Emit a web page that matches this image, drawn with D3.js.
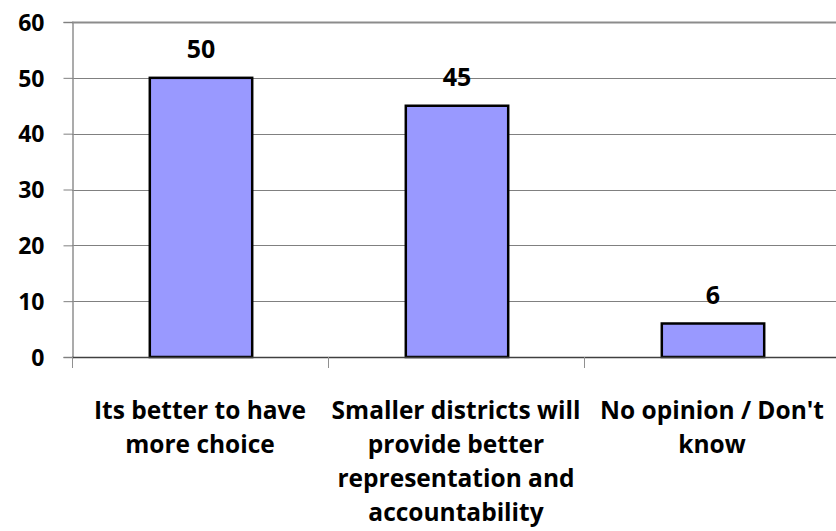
<!DOCTYPE html>
<html>
<head>
<meta charset="utf-8">
<script src="https://cdn.jsdelivr.net/npm/d3@7"></script>
<style>
  html, body { margin: 0; padding: 0; background: #fff; }
  svg { display: block; }
  text { font-family: "Open Sans", Lato, sans-serif; font-weight: bold; fill: #000; }
</style>
</head>
<body>
<svg id="chart" width="836" height="531"></svg>
<script>
// Survey responses (percent)
const categories = [
  ["Its better to have", "more choice"],
  ["Smaller districts will", "provide better", "representation and", "accountability"],
  ["No opinion / Don't", "know"]
];
const values = [50, 45, 6];
const yTicks = [0, 10, 20, 30, 40, 50, 60];

const svg = d3.select("#chart");
const margin = { left: 72, top: 22, right: -4, bottom: 174 };
const W = 836, H = 531;

const x = d3.scaleBand()
  .domain(d3.range(categories.length))
  .range([margin.left, W - margin.right])
  .paddingInner(0.6).paddingOuter(0.3);
const xOuter = d3.scaleBand()
  .domain(d3.range(categories.length))
  .range([margin.left, W - margin.right]);
const y = d3.scaleLinear().domain([0, 60]).range([H - margin.bottom, margin.top]);

// gridlines
svg.append("g")
  .selectAll("line")
  .data(yTicks.filter(d => d > 0 && d < 60))
  .join("line")
  .attr("x1", margin.left).attr("x2", W)
  .attr("y1", d => Math.round(y(d)) + 0.5).attr("y2", d => Math.round(y(d)) + 0.5)
  .attr("stroke", "#808080").attr("stroke-width", 1);

// top border of plot area
svg.append("line")
  .attr("x1", margin.left).attr("x2", W)
  .attr("y1", y(60) + 0.5).attr("y2", y(60) + 0.5)
  .attr("stroke", "#8c8c8c").attr("stroke-width", 2);

// y axis
const yAxis = svg.append("g")
  .attr("transform", `translate(${margin.left + 0.5},0)`)
  .call(d3.axisLeft(y).tickValues(yTicks).tickSize(9).tickPadding(19).tickFormat(d3.format("d")));
yAxis.select(".domain").attr("stroke", "#909090").attr("stroke-width", 1.5);
yAxis.selectAll(".tick line").attr("stroke", "#808080");
yAxis.selectAll(".tick text")
  .attr("font-size", 23).attr("font-family", "'Open Sans', sans-serif").attr("font-weight", "bold")
  .attr("fill", "#000").attr("dy", "0.36em");

// bars
svg.append("g")
  .selectAll("rect")
  .data(values)
  .join("rect")
  .attr("x", (d, i) => x(i) + 1)
  .attr("width", x.bandwidth())
  .attr("y", d => y(d))
  .attr("height", d => y(0) - y(d))
  .attr("fill", "#9999FF")
  .attr("stroke", "#000")
  .attr("stroke-width", 2.5);

// x axis line and category ticks
svg.append("line")
  .attr("x1", margin.left).attr("x2", W)
  .attr("y1", y(0) + 0.5).attr("y2", y(0) + 0.5)
  .attr("stroke", "#404040").attr("stroke-width", 1.5);
svg.append("g")
  .selectAll("line")
  .data(d3.range(categories.length))
  .join("line")
  .attr("x1", i => Math.round(xOuter(i)) + 0.5).attr("x2", i => Math.round(xOuter(i)) + 0.5)
  .attr("y1", y(0)).attr("y2", y(0) + 11)
  .attr("stroke", "#909090");

// value labels
svg.append("g")
  .selectAll("text")
  .data(values)
  .join("text")
  .attr("x", (d, i) => x(i) + 1 + x.bandwidth() / 2)
  .attr("y", d => y(d) - 20)
  .attr("text-anchor", "middle")
  .attr("font-size", 25)
  .text(d => d);

// category labels
const cat = svg.append("g")
  .selectAll("text")
  .data(categories)
  .join("text")
  .attr("text-anchor", "middle")
  .attr("font-size", 24.5)
  .attr("x", (d, i) => xOuter(i) + xOuter.bandwidth() / 2)
  .attr("y", 419);
cat.selectAll("tspan")
  .data(d => d)
  .join("tspan")
  .attr("x", function () { return d3.select(this.parentNode).attr("x"); })
  .attr("dy", (d, i) => i === 0 ? 0 : 34)
  .text(d => d);
</script>
</body>
</html>
